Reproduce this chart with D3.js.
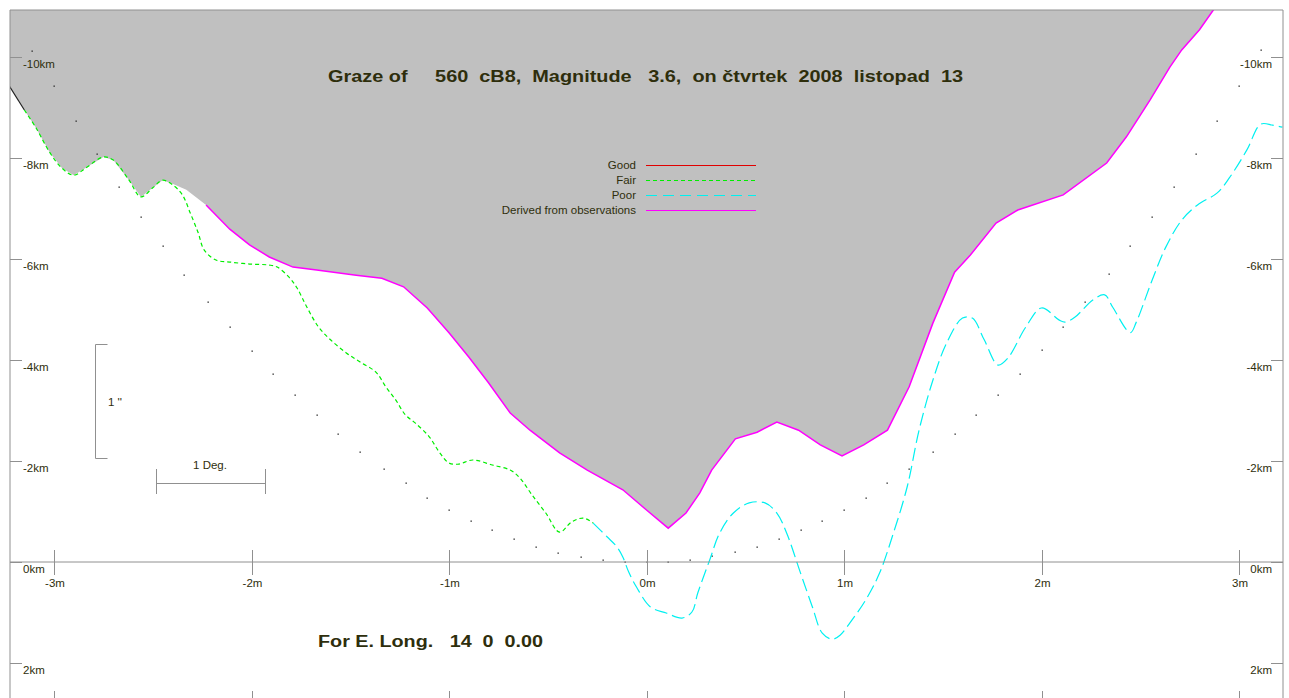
<!DOCTYPE html>
<html>
<head>
<meta charset="utf-8">
<script src="https://cdn.jsdelivr.net/npm/d3@7"></script>
<style>
  body { margin: 0; background: #fff; }
  svg { display: block; }
</style>
</head>
<body>
<script>
// limb profile [m, km] (edge of the grey region)
const limb = [[-3.23,-9.45],[-3.15,-8.95],[-3.09,-8.59],[-3.02,-8.10],[-2.96,-7.80],[-2.90,-7.66],[-2.84,-7.80],[-2.75,-8.02],[-2.70,-7.96],[-2.62,-7.56],[-2.56,-7.23],[-2.50,-7.41],[-2.45,-7.56],[-2.40,-7.49],[-2.33,-7.37],[-2.23,-7.07],[-2.11,-6.59],[-2.01,-6.28],[-1.91,-6.04],[-1.79,-5.84],[-1.67,-5.78],[-1.47,-5.68],[-1.34,-5.62],[-1.23,-5.45],[-1.11,-5.03],[-1.00,-4.54],[-0.90,-4.06],[-0.80,-3.55],[-0.69,-2.95],[-0.59,-2.61],[-0.44,-2.16],[-0.30,-1.82],[-0.12,-1.43],[0.00,-1.03],[0.11,-0.67],[0.20,-0.97],[0.27,-1.37],[0.33,-1.82],[0.45,-2.44],[0.56,-2.57],[0.66,-2.77],[0.77,-2.61],[0.88,-2.32],[0.99,-2.10],[1.10,-2.32],[1.22,-2.61],[1.33,-3.47],[1.45,-4.73],[1.56,-5.74],[1.64,-6.08],[1.77,-6.71],[1.88,-6.97],[2.11,-7.27],[2.33,-7.90],[2.43,-8.42],[2.55,-9.15],[2.65,-9.80],[2.71,-10.14],[2.80,-10.54],[2.87,-10.93],[2.93,-11.30]];

// "Fair" branch leaving the limb
const fair = [[-2.45,-7.56],[-2.40,-7.47],[-2.35,-7.27],[-2.31,-6.91],[-2.27,-6.52],[-2.24,-6.18],[-2.18,-5.98],[-2.11,-5.94],[-2.01,-5.90],[-1.91,-5.88],[-1.87,-5.84],[-1.81,-5.64],[-1.77,-5.43],[-1.72,-5.05],[-1.66,-4.65],[-1.60,-4.40],[-1.52,-4.14],[-1.45,-3.96],[-1.37,-3.76],[-1.32,-3.47],[-1.27,-3.21],[-1.22,-2.91],[-1.17,-2.75],[-1.10,-2.48],[-1.05,-2.18],[-1.00,-1.96],[-0.95,-1.94],[-0.88,-2.02],[-0.78,-1.92],[-0.69,-1.82],[-0.64,-1.66],[-0.58,-1.33],[-0.51,-0.97],[-0.44,-0.59],[-0.38,-0.79],[-0.32,-0.87],[-0.27,-0.77]];

// "Poor"
const poor = [[-0.27,-0.77],[-0.20,-0.50],[-0.15,-0.30],[-0.12,-0.10],[-0.09,0.20],[-0.05,0.50],[0.02,0.89],[0.10,1.01],[0.18,1.11],[0.23,0.99],[0.26,0.61],[0.32,-0.04],[0.37,-0.57],[0.44,-0.97],[0.52,-1.17],[0.60,-1.17],[0.66,-0.97],[0.71,-0.57],[0.78,0.22],[0.84,0.89],[0.89,1.41],[0.94,1.53],[0.98,1.45],[1.04,1.15],[1.11,0.75],[1.18,0.22],[1.25,-0.57],[1.32,-1.49],[1.38,-2.61],[1.45,-3.60],[1.52,-4.34],[1.60,-4.83],[1.65,-4.83],[1.71,-4.40],[1.78,-3.90],[1.83,-4.04],[1.92,-4.65],[2.00,-5.03],[2.09,-4.79],[2.12,-4.75],[2.17,-4.85],[2.26,-5.19],[2.32,-5.29],[2.36,-5.05],[2.45,-4.54],[2.48,-4.75],[2.56,-5.58],[2.63,-6.24],[2.71,-6.77],[2.79,-7.07],[2.89,-7.31],[2.95,-7.60],[3.04,-8.16],[3.11,-8.67],[3.17,-8.65],[3.22,-8.61]];

// dotted path line
const dots = [[-3.11,-10.12],[-3.00,-9.43],[-2.89,-8.73],[-2.78,-8.08],[-2.67,-7.43],[-2.56,-6.83],[-2.45,-6.26],[-2.34,-5.68],[-2.22,-5.15],[-2.11,-4.65],[-2.00,-4.18],[-1.89,-3.72],[-1.78,-3.31],[-1.67,-2.91],[-1.56,-2.53],[-1.45,-2.18],[-1.33,-1.84],[-1.22,-1.56],[-1.11,-1.27],[-1.00,-1.03],[-0.89,-0.81],[-0.78,-0.63],[-0.67,-0.46],[-0.56,-0.30],[-0.45,-0.18],[-0.33,-0.10],[-0.22,-0.04],[-0.11,0],[0,0],[0.11,0],[0.22,-0.04],[0.33,-0.12],[0.45,-0.20],[0.56,-0.30],[0.67,-0.46],[0.78,-0.63],[0.89,-0.81],[1.00,-1.03],[1.11,-1.27],[1.22,-1.56],[1.33,-1.84],[1.45,-2.18],[1.56,-2.53],[1.67,-2.91],[1.78,-3.31],[1.89,-3.72],[2.00,-4.20],[2.11,-4.65],[2.22,-5.15],[2.34,-5.70],[2.45,-6.26],[2.56,-6.83],[2.67,-7.43],[2.78,-8.08],[2.89,-8.73],[3.00,-9.43],[3.11,-10.14]];

const kmTicks = [-10, -8, -6, -4, -2, 0, 2];
const mTicks = [-3, -2, -1, 0, 1, 2, 3];
const legendItems = ["Good", "Fair", "Poor", "Derived from observations"];
const title = "Graze of     560  cB8,  Magnitude   3.6,  on čtvrtek  2008  listopad  13";
const subtitle = "For E. Long.   14  0  0.00";

const width = 1289, height = 698;
const frame = {left: 10, top: 10, right: 1283, bottom: 720};
const textColor = "#2e2e0c";
const axisColor = "#909090";
const colors = {good: "#e00000", fair: "#00ee00", poor: "#00f0f0", derived: "#ff00ff", limbEnd: "#202020"};

const x = d3.scaleLinear().domain([-3, 3]).range([54, 1239]);
const y = d3.scaleLinear().domain([-10, 2]).range([57, 663]);

const svg = d3.select("body").append("svg")
  .attr("width", width).attr("height", height)
  .attr("font-family", "Liberation Sans, Arial, sans-serif");

svg.append("rect").attr("width", width).attr("height", height).attr("fill", "#fff");

svg.append("clipPath").attr("id", "plot")
  .append("rect")
  .attr("x", frame.left).attr("y", frame.top)
  .attr("width", frame.right - frame.left).attr("height", frame.bottom - frame.top);

const plot = svg.append("g").attr("clip-path", "url(#plot)");

// grey region above the limb
const area = d3.area()
  .x(d => x(d[0]))
  .y0(frame.top - 5)
  .y1(d => y(d[1]));
plot.append("path").datum(limb).attr("d", area).attr("fill", "#c0c0c0");

const line = d3.line().x(d => x(d[0])).y(d => y(d[1]));
const smooth = d3.line().x(d => x(d[0])).y(d => y(d[1])).curve(d3.curveCatmullRom.alpha(0.5));

// dots
plot.append("g").selectAll("rect").data(dots).join("rect")
  .attr("x", d => Math.round(x(d[0])) - 0.5)
  .attr("y", d => Math.round(y(d[1])) - 0.5)
  .attr("width", 1.3).attr("height", 1.3)
  .attr("fill", "#222");

// 0km line
svg.append("line")
  .attr("x1", frame.left).attr("x2", frame.right)
  .attr("y1", y(0)).attr("y2", y(0))
  .attr("stroke", axisColor);

// limb segments
plot.append("path").datum(limb.slice(0, 2)).attr("d", line)
  .attr("fill", "none").attr("stroke", colors.limbEnd).attr("stroke-width", 1.2);
plot.append("path").datum(limb.slice(1, 13).concat(fair.slice(1))).attr("d", smooth)
  .attr("fill", "none").attr("stroke", colors.fair).attr("stroke-width", 1.2)
  .attr("stroke-dasharray", "4,3");
plot.append("path").datum(poor).attr("d", smooth)
  .attr("fill", "none").attr("stroke", colors.poor).attr("stroke-width", 1.2)
  .attr("stroke-dasharray", "13,5");
plot.append("path").datum(limb.slice(15)).attr("d", line)
  .attr("fill", "none").attr("stroke", colors.derived).attr("stroke-width", 1.5);

// frame
svg.append("path")
  .attr("d", `M${frame.left},${frame.bottom}V${frame.top}H${frame.right}V${frame.bottom}`)
  .attr("fill", "none").attr("stroke", axisColor);

// km axes on both sides
const kmLabel = d => `${d}km`;
const yl = svg.append("g");
yl.selectAll("line").data(kmTicks).join("line")
  .attr("x1", frame.left).attr("x2", frame.left + 12)
  .attr("y1", d => Math.round(y(d)) + 0.5).attr("y2", d => Math.round(y(d)) + 0.5)
  .attr("stroke", axisColor);
yl.selectAll("text").data(kmTicks).join("text")
  .attr("x", frame.left + 13).attr("y", d => y(d) + 11)
  .attr("font-size", 11.5).attr("fill", textColor)
  .text(kmLabel);

const yr = svg.append("g");
yr.selectAll("line").data(kmTicks).join("line")
  .attr("x1", frame.right - 12).attr("x2", frame.right)
  .attr("y1", d => Math.round(y(d)) + 0.5).attr("y2", d => Math.round(y(d)) + 0.5)
  .attr("stroke", axisColor);
yr.selectAll("text").data(kmTicks).join("text")
  .attr("x", frame.right - 11).attr("y", d => y(d) + 11)
  .attr("text-anchor", "end")
  .attr("font-size", 11.5).attr("fill", textColor)
  .text(kmLabel);

// minute ticks on the 0km line and at the bottom
const xg = svg.append("g");
xg.selectAll("line.mid").data(mTicks).join("line").attr("class", "mid")
  .attr("x1", d => Math.round(x(d)) + 0.5).attr("x2", d => Math.round(x(d)) + 0.5)
  .attr("y1", y(0) - 12).attr("y2", y(0) + 13)
  .attr("stroke", axisColor);
xg.selectAll("line.bot").data(mTicks).join("line").attr("class", "bot")
  .attr("x1", d => Math.round(x(d)) + 0.5).attr("x2", d => Math.round(x(d)) + 0.5)
  .attr("y1", 691).attr("y2", frame.bottom)
  .attr("stroke", axisColor);
xg.selectAll("text").data(mTicks).join("text")
  .attr("x", d => x(d) + 1).attr("y", y(0) + 25)
  .attr("text-anchor", "middle")
  .attr("font-size", 11.5).attr("fill", textColor)
  .text(d => `${d}m`);

// titles
svg.append("text")
  .attr("x", 328).attr("y", 82)
  .attr("font-size", 16).attr("font-weight", "bold").attr("fill", textColor)
  .attr("textLength", 635).attr("lengthAdjust", "spacingAndGlyphs")
  .style("white-space", "pre")
  .text(title);
svg.append("text")
  .attr("x", 318).attr("y", 647)
  .attr("font-size", 16).attr("font-weight", "bold").attr("fill", textColor)
  .attr("textLength", 225).attr("lengthAdjust", "spacingAndGlyphs")
  .style("white-space", "pre")
  .text(subtitle);

// legend
const legendStyles = [
  {color: colors.good, dash: null},
  {color: colors.fair, dash: "4,3"},
  {color: colors.poor, dash: "11,6"},
  {color: colors.derived, dash: null}
];
const lg = svg.append("g");
legendItems.forEach((name, i) => {
  const yy = 165 + i * 15;
  lg.append("text")
    .attr("x", 636).attr("y", yy + 4)
    .attr("text-anchor", "end")
    .attr("font-size", 11.5).attr("fill", textColor)
    .text(name);
  lg.append("line")
    .attr("x1", 646).attr("x2", 756)
    .attr("y1", yy + 0.5).attr("y2", yy + 0.5)
    .attr("stroke", legendStyles[i].color)
    .attr("stroke-dasharray", legendStyles[i].dash);
});

// scale markers
const sc = svg.append("g").attr("stroke", axisColor).attr("fill", "none");
sc.append("path").attr("d", "M107.5,344.5H95.5V458.5H107.5");
sc.append("path").attr("d", "M156.5,469V494M156.5,483.5H265.5M265.5,469V494");
svg.append("text")
  .attr("x", 108).attr("y", 406)
  .attr("font-size", 11.5).attr("fill", textColor)
  .text("1 ''");
svg.append("text")
  .attr("x", 210).attr("y", 469)
  .attr("text-anchor", "middle")
  .attr("font-size", 11.5).attr("fill", textColor)
  .text("1 Deg.");
</script>
</body>
</html>
